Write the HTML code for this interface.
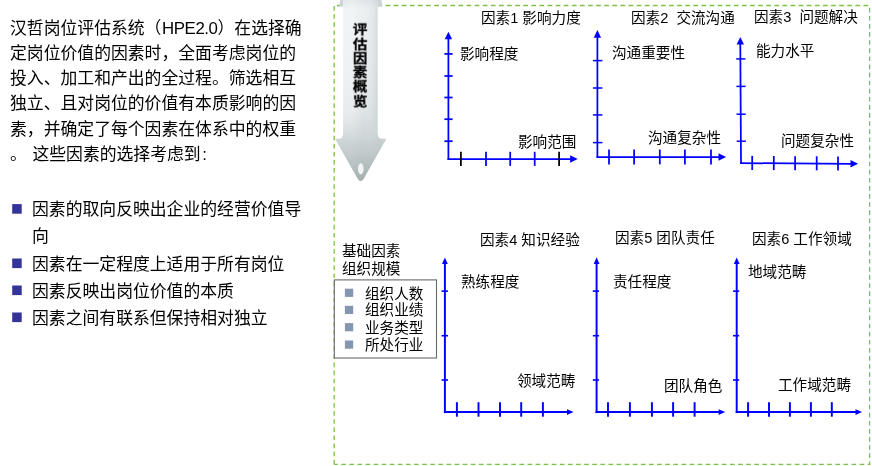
<!DOCTYPE html>
<html lang="zh-CN">
<head>
<meta charset="utf-8">
<title>汉哲岗位评估系统（HPE2.0）评估因素概览</title>
<style>
html,body{margin:0;padding:0;background:#fff;}
body{width:872px;height:466px;position:relative;overflow:hidden;font-family:"Liberation Sans", "Noto Sans CJK SC", sans-serif;}
#g{position:absolute;left:0;top:0;width:872px;height:466px;}
.t{will-change:transform;position:absolute;white-space:nowrap;margin:0;padding:0;font-family:"Liberation Sans", "Noto Sans CJK SC", sans-serif;}
.lat{font-family:"Liberation Sans", "Noto Sans CJK SC", sans-serif;}
</style>
</head>
<body>
<svg id="g" width="872" height="466" viewBox="0 0 872 466">
<path d="M334.2 5.5 L869.6 5.5" fill="none" stroke="#7bc144" stroke-width="1.3" stroke-dasharray="4.65 3.45" stroke-dashoffset="5.30"/>
<path d="M334.2 464.4 L870.25 464.4" fill="none" stroke="#7bc144" stroke-width="1.3" stroke-dasharray="4.65 3.45" stroke-dashoffset="1.10"/>
<path d="M334.2 5.5 L334.2 465.04999999999995" fill="none" stroke="#7bc144" stroke-width="1.3" stroke-dasharray="4.65 3.45" stroke-dashoffset="7.50"/>
<path d="M869.6 5.5 L869.6 465.04999999999995" fill="none" stroke="#7bc144" stroke-width="1.3" stroke-dasharray="4.65 3.45" stroke-dashoffset="5.80"/>
<defs>
<linearGradient id="gv" gradientUnits="userSpaceOnUse" x1="352" y1="0" x2="368" y2="182">
<stop offset="0" stop-color="#d9dfe1"/>
<stop offset="0.05" stop-color="#e9edef"/>
<stop offset="0.35" stop-color="#e6eaec"/>
<stop offset="0.60" stop-color="#dce1e3"/>
<stop offset="0.75" stop-color="#ccd4d5"/>
<stop offset="0.85" stop-color="#bec7c8"/>
<stop offset="1" stop-color="#a3aeae"/>
</linearGradient>
<linearGradient id="gh" gradientUnits="userSpaceOnUse" x1="343" y1="0" x2="378" y2="0">
<stop offset="0" stop-color="#ffffff" stop-opacity="0.35"/>
<stop offset="0.25" stop-color="#ffffff" stop-opacity="0.4"/>
<stop offset="0.6" stop-color="#ffffff" stop-opacity="0.1"/>
<stop offset="1" stop-color="#bfc8cb" stop-opacity="0.5"/>
</linearGradient>
<linearGradient id="gm" gradientUnits="userSpaceOnUse" x1="0" y1="0" x2="0" y2="182">
<stop offset="0" stop-color="#fff"/>
<stop offset="0.62" stop-color="#fff"/>
<stop offset="0.78" stop-color="#333"/>
<stop offset="1" stop-color="#111"/>
</linearGradient>
<mask id="mk" maskUnits="userSpaceOnUse" x="330" y="0" width="62" height="186"><rect x="330" y="0" width="62" height="186" fill="url(#gm)"/></mask>
</defs>
<path d="M340.3 0 L338.9 6.6 H343.3 V0 Z" fill="#ccd4d7"/>
<path d="M381.3 0 L382.7 6.6 H377.5 V0 Z" fill="#ccd4d7"/>
<path d="M343.2 0 V132.80 Q343.2 138.8 338.80 138.8 H336.1 Q335.1 138.8 335.59 139.67 L357.94 179.30 A3.17 3.17 0 0 0 363.46 179.30 L385.81 139.67 Q386.3 138.8 385.3 138.8 H382.00 Q377.6 138.8 377.6 132.80 V0 Z" fill="url(#gv)"/>
<path d="M343.2 0 V132.80 Q343.2 138.8 338.80 138.8 H336.1 Q335.1 138.8 335.59 139.67 L357.94 179.30 A3.17 3.17 0 0 0 363.46 179.30 L385.81 139.67 Q386.3 138.8 385.3 138.8 H382.00 Q377.6 138.8 377.6 132.80 V0 Z" fill="url(#gh)" mask="url(#mk)"/>
<ellipse cx="360.8" cy="168.9" rx="2.8" ry="5.6" fill="#f2f4f4"/>
<rect x="334.3" y="279.9" width="102.2" height="78.1" fill="#fff" stroke="#686868" stroke-width="1.1"/>
<rect x="344.9" y="288.7" width="8.3" height="8.2" fill="#8496b0"/>
<rect x="344.9" y="305.8" width="8.3" height="8.2" fill="#8496b0"/>
<rect x="344.9" y="323.1" width="8.3" height="8.2" fill="#8496b0"/>
<rect x="344.9" y="340.5" width="8.3" height="8.2" fill="#8496b0"/>
<rect x="12.2" y="204.1" width="9.5" height="9.6" fill="#333399"/>
<rect x="12.2" y="258.5" width="9.5" height="9.6" fill="#333399"/>
<rect x="12.2" y="285.5" width="9.5" height="9.6" fill="#333399"/>
<rect x="12.2" y="312.5" width="9.5" height="9.6" fill="#333399"/>
<path d="M448.4 38.3 L448.4 159.88" fill="none" stroke="#0000ff" stroke-width="1.75"/>
<path d="M447.52 159.0 L571.1 159.0" fill="none" stroke="#0000ff" stroke-width="1.75"/>
<path d="M448.4 31.7 L444.7 39.3 H452.09999999999997 Z" fill="#0000ff"/>
<path d="M577.6999999999999 159.0 L570.1 155.3 V162.7 Z" fill="#0000ff"/>
<path d="M444.40 53.9 H452.60" stroke="#0000ff" stroke-width="1.75"/>
<path d="M444.40 76.0 H452.60" stroke="#0000ff" stroke-width="1.75"/>
<path d="M444.40 97.5 H452.60" stroke="#0000ff" stroke-width="1.75"/>
<path d="M444.40 119.2 H452.60" stroke="#0000ff" stroke-width="1.75"/>
<path d="M444.40 141.2 H452.60" stroke="#0000ff" stroke-width="1.75"/>
<path d="M460.9 151.80 V165.90" stroke="#000" stroke-width="1.75"/>
<path d="M486 151.80 V165.90" stroke="#0000ff" stroke-width="1.75"/>
<path d="M510.2 151.80 V165.90" stroke="#0000ff" stroke-width="1.75"/>
<path d="M534.7 151.80 V165.90" stroke="#0000ff" stroke-width="1.75"/>
<path d="M559.1 151.80 V165.90" stroke="#000" stroke-width="1.75"/>
<path d="M597.4 36.699999999999996 L597.4 157.88" fill="none" stroke="#0000ff" stroke-width="1.75"/>
<path d="M596.52 157 L719.5 157" fill="none" stroke="#0000ff" stroke-width="1.75"/>
<path d="M597.4 30.099999999999998 L593.6999999999999 37.699999999999996 H601.1 Z" fill="#0000ff"/>
<path d="M726.0999999999999 157 L718.5 153.3 V160.7 Z" fill="#0000ff"/>
<path d="M592.90 60.6 H602.40" stroke="#0000ff" stroke-width="1.5"/>
<path d="M592.90 88.0 H602.40" stroke="#0000ff" stroke-width="1.5"/>
<path d="M592.90 114.9 H602.40" stroke="#0000ff" stroke-width="1.5"/>
<path d="M592.90 142.6 H602.40" stroke="#0000ff" stroke-width="1.5"/>
<path d="M609 149.50 V164.40" stroke="#0000ff" stroke-width="1.75"/>
<path d="M634.1 149.50 V164.40" stroke="#0000ff" stroke-width="1.75"/>
<path d="M659.8 149.50 V164.40" stroke="#0000ff" stroke-width="1.75"/>
<path d="M684.9 149.50 V164.40" stroke="#0000ff" stroke-width="1.75"/>
<path d="M711 149.50 V164.40" stroke="#0000ff" stroke-width="1.75"/>
<path d="M740.3 43.5 L741.0 163.97" fill="none" stroke="#0000ff" stroke-width="1.75"/>
<path d="M740.12 163.1 L851.5 163.8" fill="none" stroke="#0000ff" stroke-width="1.75"/>
<path d="M740.3 36.900000000000006 L736.5999999999999 44.5 H744.0 Z" fill="#0000ff"/>
<path d="M858.0999999999999 163.8 L850.5 160.10000000000002 V167.5 Z" fill="#0000ff"/>
<path d="M736.22 58.9 H745.42" stroke="#0000ff" stroke-width="1.5"/>
<path d="M736.37 86.4 H745.57" stroke="#0000ff" stroke-width="1.5"/>
<path d="M736.53 114.2 H745.73" stroke="#0000ff" stroke-width="1.5"/>
<path d="M736.68 141.2 H745.88" stroke="#0000ff" stroke-width="1.5"/>
<path d="M752.2 155.87 V169.97" stroke="#0000ff" stroke-width="1.75"/>
<path d="M773.8 156.00 V170.10" stroke="#0000ff" stroke-width="1.75"/>
<path d="M795.1 156.13 V170.23" stroke="#0000ff" stroke-width="1.75"/>
<path d="M816.7 156.26 V170.36" stroke="#0000ff" stroke-width="1.75"/>
<path d="M838 156.38 V170.48" stroke="#0000ff" stroke-width="1.75"/>
<path d="M444.9 263.1 L444.9 413.10" fill="none" stroke="#0000ff" stroke-width="1.95"/>
<path d="M443.92 412.1 L568.0 412.1" fill="none" stroke="#0000ff" stroke-width="2.0"/>
<path d="M444.9 257.5 L442.0 264.1 H447.79999999999995 Z" fill="#0000ff"/>
<path d="M573.5999999999999 412.1 L567.0 409.20000000000005 V415.0 Z" fill="#0000ff"/>
<path d="M441.50 291.1 H448.00" stroke="#0000ff" stroke-width="1.6"/>
<path d="M441.50 335.7 H448.00" stroke="#0000ff" stroke-width="1.6"/>
<path d="M441.50 380 H448.00" stroke="#0000ff" stroke-width="1.6"/>
<path d="M456.9 402.20 V416.70" stroke="#0000ff" stroke-width="1.95"/>
<path d="M478.5 402.20 V416.70" stroke="#0000ff" stroke-width="1.95"/>
<path d="M500 402.20 V416.70" stroke="#0000ff" stroke-width="1.95"/>
<path d="M521.2 402.20 V416.70" stroke="#0000ff" stroke-width="1.95"/>
<path d="M542.9 402.20 V416.70" stroke="#0000ff" stroke-width="1.95"/>
<path d="M596.6 262.90000000000003 L596.6 413.10" fill="none" stroke="#0000ff" stroke-width="1.95"/>
<path d="M595.62 412.1 L719.6 412.1" fill="none" stroke="#0000ff" stroke-width="2.0"/>
<path d="M596.6 257.3 L593.7 263.90000000000003 H599.5 Z" fill="#0000ff"/>
<path d="M725.1999999999999 412.1 L718.6 409.20000000000005 V415.0 Z" fill="#0000ff"/>
<path d="M592.80 291.1 H599.00" stroke="#0000ff" stroke-width="1.6"/>
<path d="M592.80 335.7 H599.00" stroke="#0000ff" stroke-width="1.6"/>
<path d="M592.80 380 H599.00" stroke="#0000ff" stroke-width="1.6"/>
<path d="M608 402.20 V416.70" stroke="#0000ff" stroke-width="1.95"/>
<path d="M629.9 402.20 V416.70" stroke="#0000ff" stroke-width="1.95"/>
<path d="M651.9 402.20 V416.70" stroke="#0000ff" stroke-width="1.95"/>
<path d="M673.1 402.20 V416.70" stroke="#0000ff" stroke-width="1.95"/>
<path d="M694.6 402.20 V416.70" stroke="#0000ff" stroke-width="1.95"/>
<path d="M736.7 263.1 L736.7 413.10" fill="none" stroke="#0000ff" stroke-width="1.95"/>
<path d="M735.73 412.1 L856.5 412.1" fill="none" stroke="#0000ff" stroke-width="2.0"/>
<path d="M736.7 257.5 L733.8000000000001 264.1 H739.6 Z" fill="#0000ff"/>
<path d="M862.0999999999999 412.1 L855.5 409.20000000000005 V415.0 Z" fill="#0000ff"/>
<path d="M733.00 291.1 H739.20" stroke="#0000ff" stroke-width="1.6"/>
<path d="M733.00 335.7 H739.20" stroke="#0000ff" stroke-width="1.6"/>
<path d="M733.00 380 H739.20" stroke="#0000ff" stroke-width="1.6"/>
<path d="M748.1 402.20 V416.70" stroke="#0000ff" stroke-width="1.95"/>
<path d="M769 402.20 V416.70" stroke="#0000ff" stroke-width="1.95"/>
<path d="M789.9 402.20 V416.70" stroke="#0000ff" stroke-width="1.95"/>
<path d="M810.9 402.20 V416.70" stroke="#0000ff" stroke-width="1.95"/>
<path d="M831.8 402.20 V416.70" stroke="#0000ff" stroke-width="1.95"/>
</svg>
<div class="t" style="left:10.2px;top:17px;font-size:16.84px;line-height:24px;font-weight:normal;color:#000;">汉哲岗位评估系统（<span class="lat" style="letter-spacing:-0.42px;margin-left:0.6px">HPE2.0</span>）在选择确</div>
<div class="t" style="left:10.2px;top:42px;font-size:16.84px;line-height:24px;font-weight:normal;color:#000;">定岗位价值的因素时，全面考虑岗位的</div>
<div class="t" style="left:10.2px;top:67px;font-size:16.84px;line-height:24px;font-weight:normal;color:#000;">投入、加工和产出的全过程。筛选相互</div>
<div class="t" style="left:10.2px;top:92px;font-size:16.84px;line-height:24px;font-weight:normal;color:#000;">独立、且对岗位的价值有本质影响的因</div>
<div class="t" style="left:10.2px;top:118px;font-size:16.84px;line-height:24px;font-weight:normal;color:#000;">素，并确定了每个因素在体系中的权重</div>
<div class="t" style="left:10.2px;top:143px;font-size:16.84px;line-height:24px;font-weight:normal;color:#000;">。<span style="margin-left:0.9px"> </span>这些因素的选择考虑到<span class="lat" style="margin-left:1.6px">:</span></div>
<div class="t" style="left:32.4px;top:198px;font-size:16.84px;line-height:24px;font-weight:normal;color:#000;">因素的取向反映出企业的经营价值导</div>
<div class="t" style="left:32.4px;top:225px;font-size:16.84px;line-height:24px;font-weight:normal;color:#000;">向</div>
<div class="t" style="left:32.4px;top:253px;font-size:16.84px;line-height:24px;font-weight:normal;color:#000;">因素在一定程度上适用于所有岗位</div>
<div class="t" style="left:32.4px;top:280px;font-size:16.84px;line-height:24px;font-weight:normal;color:#000;">因素反映出岗位价值的本质</div>
<div class="t" style="left:32.4px;top:307px;font-size:16.84px;line-height:24px;font-weight:normal;color:#000;">因素之间有联系但保持相对独立</div>
<div class="t" style="left:480.6px;top:8px;font-size:14.6px;line-height:20px;font-weight:normal;color:#000;">因素1 影响力度</div>
<div class="t" style="left:631.2px;top:8px;font-size:14.6px;line-height:20px;font-weight:normal;color:#000;">因素2&nbsp; 交流沟通</div>
<div class="t" style="left:753.9px;top:7px;font-size:14.6px;line-height:20px;font-weight:normal;color:#000;">因素3&nbsp; 问题解决</div>
<div class="t" style="left:460.3px;top:44px;font-size:14.6px;line-height:20px;font-weight:normal;color:#000;">影响程度</div>
<div class="t" style="left:517.9px;top:132px;font-size:14.6px;line-height:20px;font-weight:normal;color:#000;">影响范围</div>
<div class="t" style="left:612.3px;top:43px;font-size:14.6px;line-height:20px;font-weight:normal;color:#000;">沟通重要性</div>
<div class="t" style="left:648.4px;top:128px;font-size:14.6px;line-height:20px;font-weight:normal;color:#000;">沟通复杂性</div>
<div class="t" style="left:756.4px;top:41px;font-size:14.6px;line-height:20px;font-weight:normal;color:#000;">能力水平</div>
<div class="t" style="left:781.0px;top:131px;font-size:14.6px;line-height:20px;font-weight:normal;color:#000;">问题复杂性</div>
<div class="t" style="left:480.0px;top:230px;font-size:14.6px;line-height:20px;font-weight:normal;color:#000;">因素4 知识经验</div>
<div class="t" style="left:615.1px;top:228px;font-size:14.6px;line-height:20px;font-weight:normal;color:#000;">因素5 团队责任</div>
<div class="t" style="left:752.0px;top:229px;font-size:14.6px;line-height:20px;font-weight:normal;color:#000;">因素6 工作领域</div>
<div class="t" style="left:460.9px;top:272px;font-size:14.6px;line-height:20px;font-weight:normal;color:#000;">熟练程度</div>
<div class="t" style="left:517.3px;top:371px;font-size:14.6px;line-height:20px;font-weight:normal;color:#000;">领域范畴</div>
<div class="t" style="left:613.2px;top:272px;font-size:14.6px;line-height:20px;font-weight:normal;color:#000;">责任程度</div>
<div class="t" style="left:664.0px;top:376px;font-size:14.6px;line-height:20px;font-weight:normal;color:#000;">团队角色</div>
<div class="t" style="left:747.7px;top:262px;font-size:14.6px;line-height:20px;font-weight:normal;color:#000;">地域范畴</div>
<div class="t" style="left:777.5px;top:375px;font-size:14.6px;line-height:20px;font-weight:normal;color:#000;">工作域范畴</div>
<div class="t" style="left:341.9px;top:241px;font-size:14.6px;line-height:20px;font-weight:normal;color:#000;">基础因素</div>
<div class="t" style="left:341.9px;top:259px;font-size:14.6px;line-height:20px;font-weight:normal;color:#000;">组织规模</div>
<div class="t" style="left:365.4px;top:284px;font-size:14.6px;line-height:20px;font-weight:normal;color:#000;">组织人数</div>
<div class="t" style="left:365.4px;top:300px;font-size:14.6px;line-height:20px;font-weight:normal;color:#000;">组织业绩</div>
<div class="t" style="left:365.4px;top:318px;font-size:14.6px;line-height:20px;font-weight:normal;color:#000;">业务类型</div>
<div class="t" style="left:365.4px;top:335px;font-size:14.6px;line-height:20px;font-weight:normal;color:#000;">所处行业</div>
<div class="t" style="left:353.25px;top:19px;font-size:14.2px;line-height:20px;font-weight:bold;color:#000;-webkit-text-stroke:0.3px #000;transform:scale(1.02,0.92);">评</div>
<div class="t" style="left:353.25px;top:34px;font-size:14.2px;line-height:20px;font-weight:bold;color:#000;-webkit-text-stroke:0.3px #000;transform:scale(1.02,0.92);">估</div>
<div class="t" style="left:353.25px;top:48px;font-size:14.2px;line-height:20px;font-weight:bold;color:#000;-webkit-text-stroke:0.3px #000;transform:scale(1.02,0.92);">因</div>
<div class="t" style="left:353.25px;top:62px;font-size:14.2px;line-height:20px;font-weight:bold;color:#000;-webkit-text-stroke:0.3px #000;transform:scale(1.02,0.92);">素</div>
<div class="t" style="left:353.25px;top:76px;font-size:14.2px;line-height:20px;font-weight:bold;color:#000;-webkit-text-stroke:0.3px #000;transform:scale(1.02,0.92);">概</div>
<div class="t" style="left:353.25px;top:91px;font-size:14.2px;line-height:20px;font-weight:bold;color:#000;-webkit-text-stroke:0.3px #000;transform:scale(1.02,0.92);">览</div>
</body>
</html>
